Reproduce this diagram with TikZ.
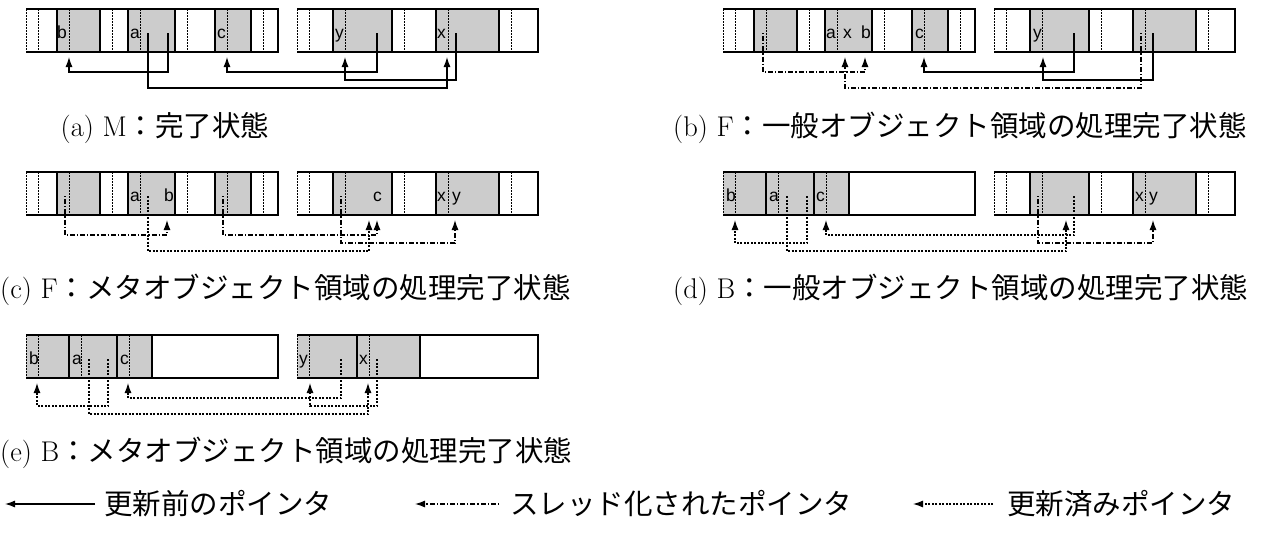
\documentclass[tikz,border=0pt]{standalone}
\usepackage{fontspec}
\newfontfamily\jp{Noto Sans CJK JP}
\newfontfamily\lab{Liberation Sans}
\usetikzlibrary{arrows.meta,backgrounds}
\definecolor{cellgrey}{RGB}{204,204,204}
\tikzset{
  solidbox/.style={line width=1.2pt},
  hdr/.style={line width=0.9pt, dash pattern=on 1.5pt off 1.5pt},
  conn/.style={line width=1.2pt, -{Latex[length=10pt,width=7pt]}},
  oldptr/.style={conn},
  thrptr/.style={conn, dash pattern=on 1.2pt off 2pt on 5pt off 2pt},
  newptr/.style={conn, dash pattern=on 2pt off 1.5pt},
  lbl/.style={font=\lab\fontsize{17.5}{17.5}\selectfont, anchor=base west, inner sep=0pt},
  captxt/.style={font=\fontsize{28.5}{34}\selectfont, inner sep=0pt},
}
% cell: x1, x2, fill
\newcommand\memcell[3]{%
  \begin{pgfonlayer}{background}\fill[#3] (#1,9) rectangle (#2,52);\end{pgfonlayer}
  \draw[hdr] (#1,9) -- (#1,52) (#1+12,9) -- (#1+12,52);
  \draw[solidbox] (#1,9) -- (#2,9) -- (#2,52) -- (#1,52);
}
\newcommand\memfree[2]{\draw[solidbox,fill=white] (#1,9) rectangle (#2,52);}
% pointer: style, from x, to x, level
\newcommand\memptr[4]{\draw[#1] (#2,33) -- (#2,#4) -- (#3,#4) -- (#3,57);}
\newcommand\memlbl[2]{\node[lbl] at (#1,38.5) {#2};}
\newcommand\fullheap{%
  \memcell{26}{57}{white}\memcell{57}{100}{cellgrey}\memcell{100}{128}{white}
  \memcell{128}{175}{cellgrey}\memcell{175}{215}{white}\memcell{215}{251}{cellgrey}
  \memcell{251}{278}{white}
  \memcell{297}{333}{white}\memcell{333}{392}{cellgrey}\memcell{392}{436}{white}
  \memcell{436}{499}{cellgrey}\memcell{499}{538}{white}}
\begin{document}
\begin{tikzpicture}[x=1pt,y=-1pt]
\useasboundingbox (0,0) rectangle (1264,542);
% (a)
\begin{scope}
  \fullheap
  \memlbl{57}{b}\memlbl{130}{a}\memlbl{217}{c}\memlbl{335}{y}\memlbl{437}{x}
  \memptr{oldptr}{168}{69}{72}
  \memptr{oldptr}{148}{447}{88}
  \memptr{oldptr}{377}{227}{72}
  \memptr{oldptr}{456}{345}{80}
\end{scope}
% (b)
\begin{scope}[shift={(697,0)}]
  \fullheap
  \memlbl{129}{a}\memlbl{146}{x}\memlbl{164}{b}\memlbl{218}{c}\memlbl{336}{y}
  \memptr{thrptr}{66}{168}{72}
  \memptr{thrptr}{444}{148}{88}
  \memptr{oldptr}{377}{227}{72}
  \memptr{oldptr}{456}{346}{80}
\end{scope}
% (c)
\begin{scope}[shift={(0,163)}]
  \fullheap
  \memlbl{130}{a}\memlbl{164}{b}\memlbl{373}{c}\memlbl{437}{x}\memlbl{452}{y}
  \memptr{thrptr}{65}{167}{72}
  \memptr{newptr}{148}{369}{88}
  \memptr{thrptr}{223}{377}{72}
  \memptr{thrptr}{341}{455}{80}
\end{scope}
% (d)
\begin{scope}[shift={(697,163)}]
  \memcell{26}{69}{cellgrey}\memcell{69}{117}{cellgrey}\memcell{117}{152}{cellgrey}
  \memfree{152}{278}
  \memcell{297}{333}{white}\memcell{333}{392}{cellgrey}\memcell{392}{436}{white}
  \memcell{436}{499}{cellgrey}\memcell{499}{538}{white}
  \memlbl{29}{b}\memlbl{72}{a}\memlbl{119}{c}\memlbl{438}{x}\memlbl{452}{y}
  \memptr{newptr}{110}{38}{80}
  \memptr{newptr}{90}{369}{88}
  \memptr{newptr}{377}{129}{72}
  \memptr{thrptr}{341}{456}{80}
\end{scope}
% (e)
\begin{scope}[shift={(0,326)}]
  \memcell{26}{69}{cellgrey}\memcell{69}{117}{cellgrey}\memcell{117}{152}{cellgrey}
  \memfree{152}{278}
  \memcell{297}{357}{cellgrey}\memcell{357}{420}{cellgrey}\memfree{420}{538}
  \memlbl{29}{b}\memlbl{72}{a}\memlbl{120}{c}\memlbl{299}{y}\memlbl{359}{x}
  \memptr{newptr}{108}{37}{80}
  \memptr{newptr}{89}{368}{88}
  \memptr{newptr}{341}{128}{72}
  \memptr{newptr}{377}{310}{80}
\end{scope}
% captions
\node[captxt] (capa) at (165,128) {(a) M{\jp ：完了状態}};
\node[captxt,anchor=west] (capb) at (673,128) {(b) F{\jp ：一般オブジェクト領域の処理完了状態}};
\node[captxt,anchor=west] (capc) at (0,290) {(c) F{\jp ：メタオブジェクト領域の処理完了状態}};
\node[captxt,anchor=west] (capd) at (673,290) {(d) B{\jp ：一般オブジェクト領域の処理完了状態}};
\node[captxt,anchor=west] (cape) at (0,453) {(e) B{\jp ：メタオブジェクト領域の処理完了状態}};
% legend
\node[captxt,anchor=west] (l1) at (104,504) {\jp 更新前のポインタ};
\node[captxt,anchor=west] (l2) at (510,504) {\jp スレッド化されたポインタ};
\node[captxt,anchor=west] (l3) at (1007,504) {\jp 更新済みポインタ};
\coordinate (l1s) at (95,504); \coordinate (l1e) at (5,504);
\coordinate (l2s) at (499,504); \coordinate (l2e) at (415,504);
\coordinate (l3s) at (993,504); \coordinate (l3e) at (913,504);
\draw[oldptr] (l1s) -- (l1e);
\draw[thrptr] (l2s) -- (l2e);
\draw[newptr] (l3s) -- (l3e);
\end{tikzpicture}
\end{document}
